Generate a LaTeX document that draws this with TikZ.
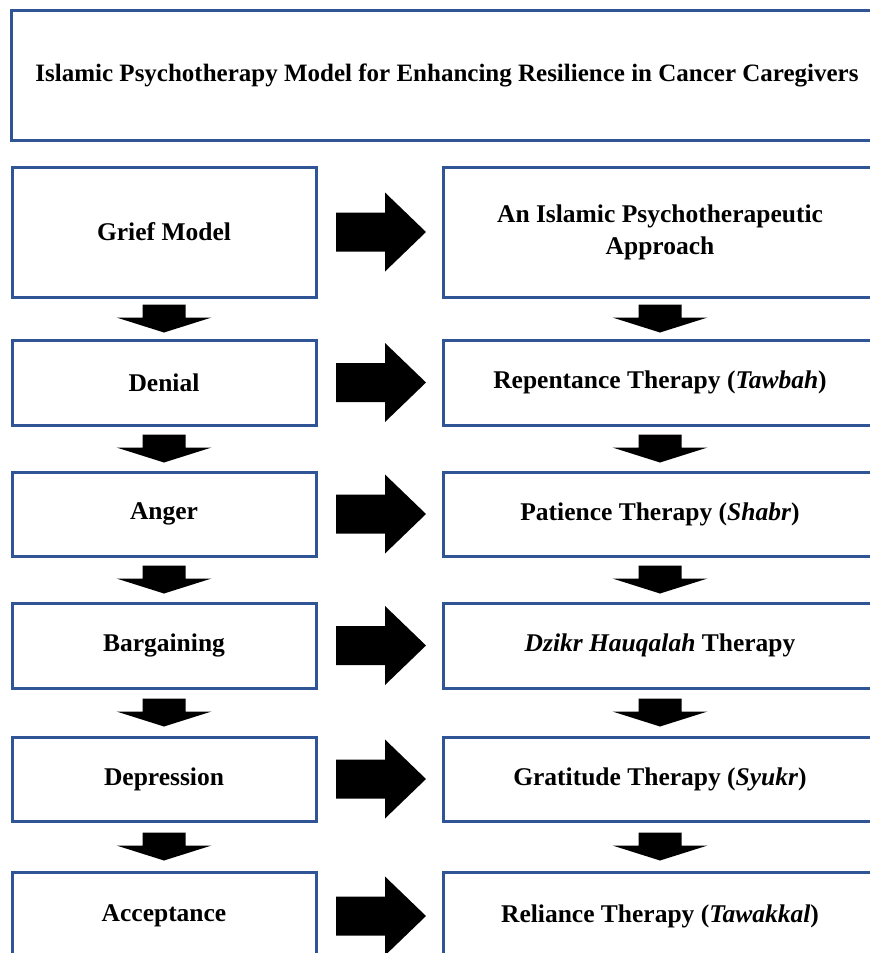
\documentclass[tikz,border=0pt]{standalone}
\usepackage{fontspec}
\setmainfont{Liberation Serif}
\usepackage{xcolor}
\usetikzlibrary{positioning, calc}

\definecolor{boxblue}{RGB}{47,85,151}

\tikzset{
    stagebox/.style={draw=boxblue, line width=3pt, rectangle, align=center,
        font=\fontsize{25.5}{32}\selectfont\bfseries, inner sep=0pt},
    leftbox/.style={stagebox, minimum width=304pt},
    rightbox/.style={stagebox, minimum width=434pt},
    rarrow/.pic={\fill (-45,-19.5) -- (4,-19.5) -- (4,-39.5) -- (45,0) -- (4,39.5) -- (4,19.5) -- (-45,19.5) -- cycle;},
    darrow/.pic={\fill (-21.5,-14) -- (21.5,-14) -- (21.5,-1) -- (47.5,-1) -- (0,14) -- (-47.5,-1) -- (-21.5,-1) -- cycle;}
}

\begin{document}
\begin{tikzpicture}[x=1pt, y=-1pt]
    \useasboundingbox (0,0) rectangle (870,953);
    \clip (0,0) rectangle (870,953);

    % title
    \node[stagebox, font=\fontsize{25}{32}\selectfont\bfseries, minimum width=872pt, minimum height=130pt] (title) at (447,75)
        {Islamic Psychotherapy Model for Enhancing Resilience in Cancer Caregivers};

    % grief model stages
    \node[leftbox, minimum height=130pt] (grief) at (164,232) {Grief Model};
    \node[leftbox, minimum height=85pt] (denial) at (164,382.5) {Denial};
    \node[leftbox, minimum height=84pt] (anger) at (164,514) {Anger};
    \node[leftbox, minimum height=85pt] (bargain) at (164,645.5) {Bargaining};
    \node[leftbox, minimum height=84pt] (depress) at (164,779) {Depression};
    \node[leftbox, minimum height=88pt] (accept) at (164,916) {Acceptance};

    % islamic therapies
    \node[rightbox, minimum height=130pt] (approach) at (660,232) {An Islamic Psychotherapeutic\\Approach};
    \node[rightbox, minimum height=85pt] (tawbah) at (660,382.5) {Repentance Therapy (\textit{Tawbah})};
    \node[rightbox, minimum height=84pt] (shabr) at (660,514) {Patience Therapy (\textit{Shabr})};
    \node[rightbox, minimum height=85pt] (dzikr) at (660,645.5) {\textit{Dzikr Hauqalah} Therapy};
    \node[rightbox, minimum height=84pt] (syukr) at (660,779) {Gratitude Therapy (\textit{Syukr})};
    \node[rightbox, minimum height=88pt] (tawakkal) at (660,916) {Reliance Therapy (\textit{Tawakkal})};

    % arrows
    \foreach \a/\b in {grief/approach, denial/tawbah, anger/shabr, bargain/dzikr, depress/syukr, accept/tawakkal}
        \pic at ($(\a.east)!0.5!(\b.west)+(1.5,0)$) {rarrow};
    \foreach \a/\b in {grief/denial, denial/anger, anger/bargain, bargain/depress, depress/accept,
        approach/tawbah, tawbah/shabr, shabr/dzikr, dzikr/syukr, syukr/tawakkal}
        \pic at ($(\a.south)!0.5!(\b.north)$) {darrow};
\end{tikzpicture}
\end{document}
